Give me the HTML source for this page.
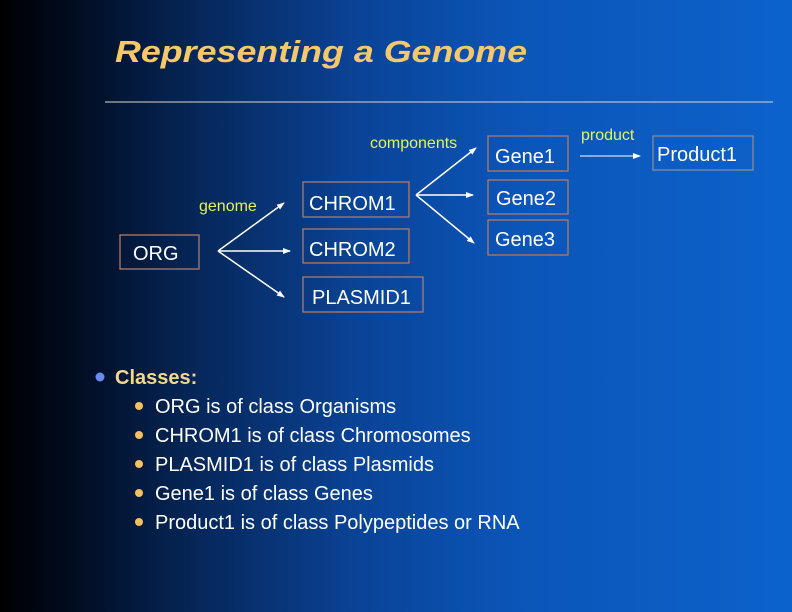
<!DOCTYPE html>
<html><head><meta charset="utf-8"><style>
html,body{margin:0;padding:0;}
body{width:792px;height:612px;overflow:hidden;background:linear-gradient(to right,#000 0%,#010a1c 8%,#06275a 25%,#0a4396 45%,#0b55b8 65%,#0c62cc 100%);}
svg{display:block;font-family:"Liberation Sans",Arial,sans-serif;}
</style></head><body>
<svg width="792" height="612" viewBox="0 0 792 612" xmlns="http://www.w3.org/2000/svg">
<defs>
<marker id="a" markerWidth="8" markerHeight="8" refX="7" refY="4" orient="auto" markerUnits="userSpaceOnUse"><path d="M0,1 L8,4 L0,7 Z" fill="#fff"/></marker>
</defs>
<text x="115" y="62" font-size="31" font-weight="bold" font-style="italic" fill="#f5c96a" textLength="412" lengthAdjust="spacingAndGlyphs">Representing a Genome</text>
<line x1="105" y1="102" x2="773" y2="102" stroke="#d8d8d8" stroke-width="1"/>

<g fill="none" stroke="#b07a66" stroke-width="1.3">
<rect x="120" y="235" width="79" height="34"/>
<rect x="303" y="182" width="106" height="35"/>
<rect x="303" y="229" width="106" height="34"/>
<rect x="303" y="277" width="120" height="35"/>
<rect x="488" y="136" width="80" height="35"/>
<rect x="488" y="180" width="80" height="34"/>
<rect x="488" y="220" width="80" height="35"/>
<rect x="653" y="136" width="100" height="34" stroke="#8a8a9a"/>
</g>
<g fill="#fff" font-size="20">
<text x="133" y="260">ORG</text>
<text x="309" y="210">CHROM1</text>
<text x="309" y="256">CHROM2</text>
<text x="312" y="304">PLASMID1</text>
<text x="495" y="163">Gene1</text>
<text x="496" y="205">Gene2</text>
<text x="495" y="246">Gene3</text>
<text x="657" y="161">Product1</text>
</g>
<g fill="#e6f25a" font-size="16">
<text x="370" y="148">components</text>
<text x="199" y="211">genome</text>
<text x="581" y="140">product</text>
</g>
<g stroke="#fff" stroke-width="1.5" fill="none" marker-end="url(#a)">
<line x1="218" y1="251" x2="284" y2="203"/>
<line x1="218" y1="251" x2="290" y2="251"/>
<line x1="218" y1="251" x2="284" y2="297"/>
<line x1="416" y1="195" x2="476" y2="148"/>
<line x1="416" y1="195" x2="473" y2="195"/>
<line x1="416" y1="195" x2="474" y2="243"/>
<line x1="580" y1="156" x2="640" y2="156" stroke-width="1"/>
</g>

<circle cx="100" cy="377" r="4.5" fill="#6a8cf0"/>
<text x="115" y="384" font-size="20" font-weight="bold" fill="#f5d690">Classes:</text>
<g fill="#f5c060">
<circle cx="139" cy="406" r="4"/>
<circle cx="139" cy="435" r="4"/>
<circle cx="139" cy="464" r="4"/>
<circle cx="139" cy="493" r="4"/>
<circle cx="139" cy="522" r="4"/>
</g>
<g fill="#fff" font-size="20">
<text x="155" y="413">ORG is of class Organisms</text>
<text x="155" y="442">CHROM1 is of class Chromosomes</text>
<text x="155" y="471">PLASMID1 is of class Plasmids</text>
<text x="155" y="500">Gene1 is of class Genes</text>
<text x="155" y="529">Product1 is of class Polypeptides or RNA</text>
</g>
</svg>
</body></html>
